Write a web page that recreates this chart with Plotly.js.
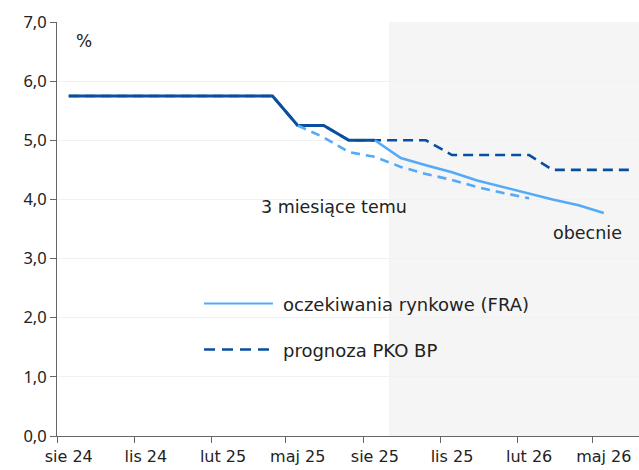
<!DOCTYPE html>
<html>
<head>
<meta charset="utf-8">
<script src="https://cdn.plot.ly/plotly-3.0.1.min.js"></script>
<style>
html,body{margin:0;padding:0;background:#fff;}
#chart{width:639px;height:470px;}
</style>
</head>
<body>
<div id="chart"></div>
<script>
// Monthly observations (mid-month), Aug 2024 – Jun 2026
var months = ['2024-08-15','2024-09-15','2024-10-15','2024-11-15','2024-12-15','2025-01-15','2025-02-15','2025-03-15','2025-04-15','2025-05-15','2025-06-15','2025-07-15','2025-08-15','2025-09-15','2025-10-15','2025-11-15','2025-12-15','2026-01-15','2026-02-15','2026-03-15','2026-04-15','2026-05-15','2026-06-15'];
// NBP reference rate (history)
var nbpRate = [5.75,5.75,5.75,5.75,5.75,5.75,5.75,5.75,5.75,5.25,5.25,5.00,5.00];
// PKO BP forecast
var pkoForecast = [5.75,5.75,5.75,5.75,5.75,5.75,5.75,5.75,5.75,5.25,5.25,5.00,5.00,5.00,5.00,4.75,4.75,4.75,4.75,4.50,4.50,4.50,4.50];
// Market expectations (FRA) - current, from Aug 2025
var fraNow = [5.00,4.70,4.58,4.46,4.32,4.21,4.09,4.00,3.90,3.77];
// Market expectations (FRA) - 3 months ago, from May 2025
var fra3m = [5.25,5.05,4.80,4.72,4.55,4.43,4.33,4.21,4.11,4.02];

// tick marks at month starts, labels centred on the month
var tickMarkVals = ['2024-08-01','2024-11-01','2025-02-01','2025-05-01','2025-08-01','2025-11-01','2026-02-01','2026-05-01'];
var tickLabelVals = ['2024-08-15','2024-11-15','2025-02-15','2025-05-15','2025-08-15','2025-11-15','2026-02-15','2026-05-15'];
var tickText = ['sie 24','lis 24','lut 25','maj 25','sie 25','lis 25','lut 26','maj 26'];
var yTickVals = [0,1,2,3,4,5,6,7];
var yTickText = ['0,0','1,0','2,0','3,0','4,0','5,0','6,0','7,0'];

var dark = '#0a4f9f';
var light = '#55aaf7';
var FONT = 'DejaVu Sans, sans-serif';
var FONT_Y = 'Noto Sans, sans-serif';

var traces = [
  {x: months.slice(0, pkoForecast.length), y: pkoForecast, type:'scatter', mode:'lines', name:'prognoza PKO BP',
   line:{color:dark, width:2.6, dash:'10px,6px'}, showlegend:false},
  {x: months.slice(0, nbpRate.length), y: nbpRate, type:'scatter', mode:'lines', name:'NBP',
   line:{color:dark, width:3}, showlegend:false},
  {x: months.slice(9, 9 + fra3m.length), y: fra3m, type:'scatter', mode:'lines', name:'3 miesiące temu',
   line:{color:light, width:2.6, dash:'9px,6px'}, showlegend:false},
  {x: months.slice(12, 12 + fraNow.length), y: fraNow, type:'scatter', mode:'lines', name:'oczekiwania rynkowe (FRA)',
   line:{color:light, width:2.6}, showlegend:false}
];

function py(pix){ return (436 - pix) / 414; }

var layout = {
  width:639, height:470,
  margin:{l:57, r:0, t:22, b:34, pad:0},
  paper_bgcolor:'#ffffff', plot_bgcolor:'#ffffff',
  font:{family:FONT, size:16, color:'#222'},
  showlegend:false,
  xaxis:{type:'date', range:['2024-08-01','2026-06-26'],
    tickmode:'array', tickvals:tickLabelVals, ticktext:tickText, ticks:'outside', ticklen:6, tickcolor:'rgba(0,0,0,0)', tickwidth:1,
    minor:{tickmode:'array', tickvals:tickMarkVals, ticks:'outside', ticklen:6, tickcolor:'#666', tickwidth:1, showgrid:false},
    showgrid:false, zeroline:false, showline:true, linecolor:'#666', linewidth:1,
    tickfont:{family:FONT, size:16, color:'#222'}, fixedrange:true},
  yaxis:{range:[0,7], tickvals:yTickVals, ticktext:yTickText, ticks:'outside', ticklen:6, tickcolor:'#666',
    showgrid:true, gridcolor:'#f1f1f1', gridwidth:1, zeroline:false, showline:true, linecolor:'#666', linewidth:1,
    tickfont:{family:FONT_Y, size:16.5, color:'#222'}, fixedrange:true},
  shapes:[
    {type:'rect', xref:'x', yref:'paper', x0:'2025-09-01', x1:'2026-06-26', y0:0, y1:1,
     fillcolor:'#f5f5f5', line:{width:0}, layer:'below'},
    {type:'line', xref:'paper', yref:'paper', x0:0.2526, x1:0.371, y0:py(303.5), y1:py(303.5),
     line:{color:light, width:2.2}},
    {type:'line', xref:'paper', yref:'paper', x0:0.2526, x1:0.371, y0:py(349.5), y1:py(349.5),
     line:{color:dark, width:2.6, dash:'11px,7px'}}
  ],
  annotations:[
    {xref:'paper', yref:'paper', x:(84-57)/582, y:py(41), text:'%', showarrow:false, xanchor:'center', yanchor:'middle',
     font:{family:FONT, size:17, color:'#222'}},
    {xref:'paper', yref:'paper', x:(334-57)/582, y:py(207), text:'3 miesiące temu', showarrow:false, xanchor:'center', yanchor:'middle',
     font:{family:FONT, size:17.5, color:'#222'}},
    {xref:'paper', yref:'paper', x:(587-57)/582, y:py(233), text:'obecnie', showarrow:false, xanchor:'center', yanchor:'middle',
     font:{family:FONT, size:17.5, color:'#222'}},
    {xref:'paper', yref:'paper', x:(281-57)/582, y:py(304), text:'oczekiwania rynkowe (FRA)', showarrow:false, xanchor:'left', yanchor:'middle',
     font:{family:FONT, size:18, color:'#222'}},
    {xref:'paper', yref:'paper', x:(281-57)/582, y:py(350), text:'prognoza PKO BP', showarrow:false, xanchor:'left', yanchor:'middle',
     font:{family:FONT, size:18, color:'#222'}}
  ]
};

Plotly.newPlot('chart', traces, layout, {displayModeBar:false, staticPlot:true});
</script>
</body>
</html>
